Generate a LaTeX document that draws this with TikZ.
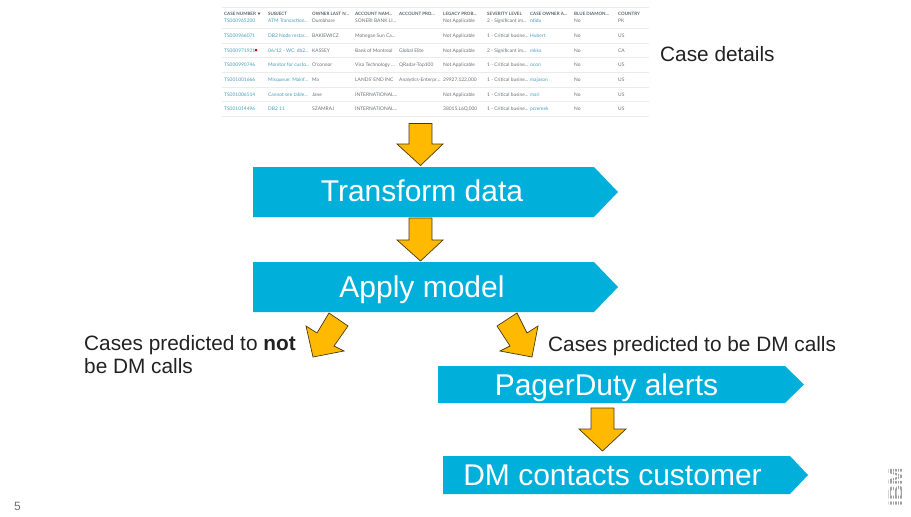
\documentclass[tikz,border=0pt]{standalone}
\usepackage{fontspec}
\setmainfont{Liberation Sans}
\newfontfamily\tablefont{Lato}
\definecolor{bandblue}{HTML}{00B0DA}
\definecolor{arrowgold}{HTML}{FFBA00}
\definecolor{arrowedge}{HTML}{4A3A10}
\definecolor{linkblue}{HTML}{4A9CBC}
\definecolor{cellgrey}{HTML}{6A6F76}
\definecolor{headgrey}{HTML}{5A6068}
\definecolor{rulegrey}{HTML}{EBEBEB}
\definecolor{inktext}{HTML}{222222}
\definecolor{logogrey}{HTML}{A0A0A0}
\newcommand{\dd}{.\kern0pt.\kern0pt.}
\newcommand{\slashmark}{/}
\newcommand{\commamark}{,}
\tikzset{
  band/.style={fill=bandblue,draw=none},
  bandtext/.style={text=white,font=\fontsize{30}{30}\selectfont,inner sep=0pt,anchor=base},
  blockarrow/.style={fill=arrowgold,draw=arrowedge,line width=0.7pt,line join=miter},
  caption/.style={text=inktext,font=\fontsize{20.8}{25}\selectfont,inner sep=0pt,anchor=base west,align=left},
  hd/.style={text=headgrey,font=\tablefont\fontsize{4.5}{5}\bfseries\selectfont,inner sep=0pt,anchor=base west},
  lk/.style={text=linkblue,font=\tablefont\fontsize{4.9}{6}\selectfont,inner sep=0pt,anchor=base west},
  cl/.style={text=cellgrey,font=\tablefont\fontsize{4.9}{6}\selectfont,inner sep=0pt,anchor=base west},
  tablerule/.style={draw=rulegrey,line width=0.5pt}
}
\begin{document}
\begin{tikzpicture}[x=1pt,y=-1pt]
\useasboundingbox (0,0) rectangle (911,517);
% table
\foreach \yy in {7.5,28,43,57,72,87,101.5,116}{\draw[tablerule] (222,\yy) -- (649,\yy);}
\foreach \xx/\tx in {224/CASE NUMBER,268/SUBJECT,312/OWNER LAST N\dd,355/ACCOUNT NAM\dd,399/ACCOUNT PRO\dd,443/LEGACY PROB\dd,487/SEVERITY LEVEL,530/CASE OWNER A\dd,574/BLUE DIAMON\dd,618/COUNTRY}
  {\node[hd] at (\xx,15) {\tx};}
\fill[headgrey] (257.5,12.5) -- (260.5,12.5) -- (259,15) -- cycle;
\foreach \yy/\ca/\cb/\cc/\cd/\ce/\cf/\cg/\ch/\ci/\cj in {
 22.5/TS000965200/ATM Transaction\dd/Dumbhare/SONERI BANK LI\dd/{}/Not Applicable/2 - Significant im\dd/ntidu/No/PK,
 37/TS000966071/DB2 Node restar\dd/BAKIEWICZ/Mohegan Sun Ca\dd/{}/Not Applicable/1 - Critical busine\dd/Hubert/No/US,
 52/TS000971921/06\slashmark12 - WC: db2\dd/KASSEY/Bank of Montreal/Global Elite/Not Applicable/2 - Significant im\dd/mkka/No/CA,
 66.5/TS000990746/Monitor for custo\dd/O'connor/Visa Technology \dd/QRadar-Top100/Not Applicable/1 - Critical busine\dd/ocon/No/US,
 81/TS001001666/Misqueue: Mainf\dd/Ma/LANDS' END INC/Analytics-Enterpr\dd/29927\commamark122\commamark000/1 - Critical busine\dd/majason/No/US,
 96/TS001006514/Cannot see table\dd/Jane/INTERNATIONAL\dd/{}/Not Applicable/1 - Critical busine\dd/mari/No/US,
 110.5/TS001014496/DB2 11/SZAMRAJ/INTERNATIONAL\dd/{}/38015\commamark L6Q\commamark000/1 - Critical busine\dd/przemek/No/US}{
  \node[lk] at (224,\yy) {\ca};
  \node[lk] at (268,\yy) {\cb};
  \node[cl] at (312,\yy) {\cc};
  \node[cl] at (355,\yy) {\cd};
  \node[cl] at (399,\yy) {\ce};
  \node[cl] at (443,\yy) {\cf};
  \node[cl] at (487,\yy) {\cg};
  \node[lk] at (530,\yy) {\ch};
  \node[cl] at (574,\yy) {\ci};
  \node[cl] at (618,\yy) {\cj};
}
\fill[red!75!black] (256,50) circle (1.5);
\node[caption] (details) at (660,61) {Case details};
% bands
\fill[band] (253,167) -- (594,167) -- (618,192) -- (594,217) -- (253,217) -- cycle;
\node[bandtext] (transform) at (422,201) {Transform data};
\fill[band] (253,262) -- (594,262) -- (618,287) -- (594,312) -- (253,312) -- cycle;
\node[bandtext] (apply) at (422,297) {Apply model};
\fill[band] (438,366) -- (785,366) -- (804,384.5) -- (785,403) -- (438,403) -- cycle;
\node[bandtext] (pager) at (606.5,395) {PagerDuty alerts};
\fill[band] (443,456) -- (790,456) -- (808,475) -- (790,494) -- (443,494) -- cycle;
\node[bandtext] (contact) at (612.5,485) {DM contacts customer};
% block arrows
\draw[blockarrow] (409,123.5) -- (432,123.5) -- (432,144) -- (443,144) -- (420.5,165.5) -- (397,144) -- (409,144) -- cycle;
\draw[blockarrow] (409,218) -- (432,218) -- (432,240) -- (443,240) -- (420.5,261) -- (397,240) -- (409,240) -- cycle;
\draw[blockarrow] (329,313) -- (348,326) -- (334,346) -- (344,351) -- (313,357) -- (306,326) -- (317,333) -- cycle;
\draw[blockarrow] (517,313) -- (497,326) -- (510,346) -- (500,351) -- (532,357) -- (538,326) -- (527,333) -- cycle;
\draw[blockarrow] (591,408) -- (614,408) -- (614,429) -- (626,429) -- (602.5,451) -- (579,429) -- (591,429) -- cycle;
% captions
\node[caption] (notdm) at (84,350.5) {Cases predicted to \textbf{not}};
\node[caption] (notdmb) at (84,373) {be DM calls};
\node[caption] (dm) at (548,351) {Cases predicted to be DM calls};
% page number
\node[text=cellgrey,font=\fontsize{12}{12}\selectfont,inner sep=0pt,anchor=base west] (page) at (14,510) {5};
% logo
\node[rotate=90,text=logogrey,font=\fontsize{21}{21}\bfseries\selectfont,inner sep=0pt] (ibm) at (896,487.5) {IBM};
\foreach \xx in {889.7,892.2,894.7,897.2,899.7,902.2}{\draw[white,line width=0.5pt] (\xx,466) -- (\xx,509);}
\end{tikzpicture}
\end{document}
